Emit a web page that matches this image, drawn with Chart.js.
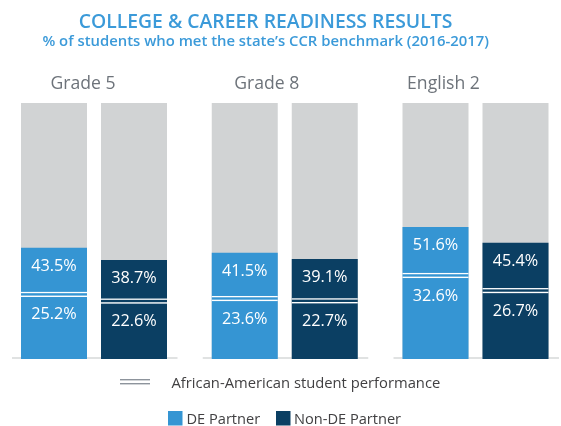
<!DOCTYPE html>
<html>
<head>
<meta charset="utf-8">
<script src="https://cdn.jsdelivr.net/npm/chart.js@4/dist/chart.umd.min.js"></script>
<style>
  html, body { margin: 0; padding: 0; background: #ffffff; }
  #wrap { width: 561px; height: 426px; }
</style>
</head>
<body>
<div id="wrap"><canvas id="c" width="561" height="426"></canvas></div>
<script>
// ---- data ----
const categories = ['Grade 5', 'Grade 8', 'English 2'];
const dePartner = [43.5, 41.5, 51.6];
const nonDePartner = [38.7, 39.1, 45.4];
const aaDePartner = [25.2, 23.6, 32.6];
const aaNonDePartner = [22.6, 22.7, 26.7];
const fullScale = [100, 100, 100];
const seriesNames = ['DE Partner', 'Non-DE Partner'];
const aaLegendLabel = 'African-American student performance';
const titleText = 'COLLEGE & CAREER READINESS RESULTS';
const subtitleText = '% of students who met the state\u2019s CCR benchmark (2016-2017)';

// ---- styles ----
const BLUE = '#3595d3';
const NAVY = '#0b3f63';
const GRAY = '#d1d3d4';
const TITLE_BLUE = '#3b9ad9';
const FONT = '"Open Sans", "Noto Sans", sans-serif';
const catLabelShift = [-11, -18, -32];

function fmt(v) { return v.toFixed(1) + '%'; }

// set a font so that text spans approximately the given width
function fitFont(ctx, text, weight, baseSize, targetWidth) {
  ctx.font = weight + ' ' + baseSize + 'px ' + FONT;
  const w = ctx.measureText(text).width;
  const size = baseSize * targetWidth / w;
  ctx.font = weight + ' ' + size.toFixed(2) + 'px ' + FONT;
}

const overlay = {
  id: 'overlay',
  beforeDatasetsDraw(chart) {
    const ctx = chart.ctx;
    const xs = chart.scales.x;
    ctx.save();
    ctx.strokeStyle = '#d6d8d9';
    ctx.lineWidth = 1.3;
    categories.forEach((c, i) => {
      const cx = xs.getPixelForValue(i);
      ctx.beginPath();
      ctx.moveTo(cx - 82, 358);
      ctx.lineTo(cx + 83.5, 358);
      ctx.stroke();
    });
    ctx.restore();
  },
  afterDatasetsDraw(chart) {
    const ctx = chart.ctx;
    const ys = chart.scales.y;
    const xs = chart.scales.x;
    ctx.save();
    const groups = [[0, dePartner, aaDePartner], [1, nonDePartner, aaNonDePartner]];
    groups.forEach(([di, vals, aas]) => {
      const meta = chart.getDatasetMeta(di);
      meta.data.forEach((bar, i) => {
        const half = bar.width / 2;
        const yAA = ys.getPixelForValue(aas[i]);
        ctx.fillStyle = '#ffffff';
        ctx.fillRect(bar.x - half, yAA - 2.6, bar.width, 1.3);
        ctx.fillRect(bar.x - half, yAA + 1.1, bar.width, 1.4);
        ctx.font = '16.3px ' + FONT;
        ctx.textAlign = 'center';
        ctx.textBaseline = 'alphabetic';
        const yTop = ys.getPixelForValue(vals[i]);
        ctx.fillText(fmt(vals[i]), bar.x, yTop + 23);
        ctx.fillText(fmt(aas[i]), bar.x, yAA + 25);
      });
    });
    // category labels
    ctx.fillStyle = '#6d737a';
    ctx.font = '17.6px ' + FONT;
    ctx.textAlign = 'center';
    ctx.textBaseline = 'alphabetic';
    categories.forEach((c, i) => {
      ctx.fillText(c, xs.getPixelForValue(i) + catLabelShift[i], 89);
    });
    // title & subtitle
    ctx.fillStyle = TITLE_BLUE;
    fitFont(ctx, titleText, '600', 17, 374);
    ctx.fillText(titleText, 265.5, 27.5);
    fitFont(ctx, subtitleText, '600', 14, 447);
    ctx.fillText(subtitleText, 265.7, 46);
    // legend row 1
    ctx.fillStyle = '#8d949c';
    ctx.fillRect(120, 379, 30, 1.4);
    ctx.fillRect(120, 383, 30, 1.4);
    ctx.fillStyle = '#414042';
    ctx.textAlign = 'left';
    fitFont(ctx, aaLegendLabel, 'normal', 14, 269);
    ctx.fillText(aaLegendLabel, 171.5, 388);
    // legend row 2
    ctx.fillStyle = BLUE;
    ctx.fillRect(168, 411, 14.5, 14.5);
    ctx.fillStyle = NAVY;
    ctx.fillRect(276, 411, 14.5, 14.5);
    ctx.fillStyle = '#414042';
    ctx.font = '14.6px ' + FONT;
    ctx.fillText(seriesNames[0], 186.5, 424);
    ctx.fillText(seriesNames[1], 294, 424);
    ctx.restore();
  }
};

new Chart(document.getElementById('c'), {
  type: 'bar',
  data: {
    labels: categories,
    datasets: [
      { label: seriesNames[0], data: dePartner, backgroundColor: BLUE, stack: 'de', clip: false },
      { label: seriesNames[1], data: nonDePartner, backgroundColor: NAVY, stack: 'nde', clip: false },
      { label: 'bg1', data: fullScale, backgroundColor: GRAY, stack: 'de', clip: false },
      { label: 'bg2', data: fullScale, backgroundColor: GRAY, stack: 'nde', clip: false }
    ]
  },
  options: {
    responsive: false,
    animation: false,
    devicePixelRatio: 1,
    categoryPercentage: 160 / 190.75,
    barPercentage: 66 / 80,
    layout: { padding: { left: 94, right: 85.5, top: 103, bottom: 67 } },
    plugins: { legend: { display: false }, title: { display: false }, tooltip: { enabled: false } },
    scales: {
      x: { type: 'category', offset: false, stacked: true, display: false, grid: { display: false } },
      y: { min: 0, max: 100, stacked: false, display: false, grid: { display: false } }
    }
  },
  plugins: [overlay]
});
</script>
</body>
</html>
